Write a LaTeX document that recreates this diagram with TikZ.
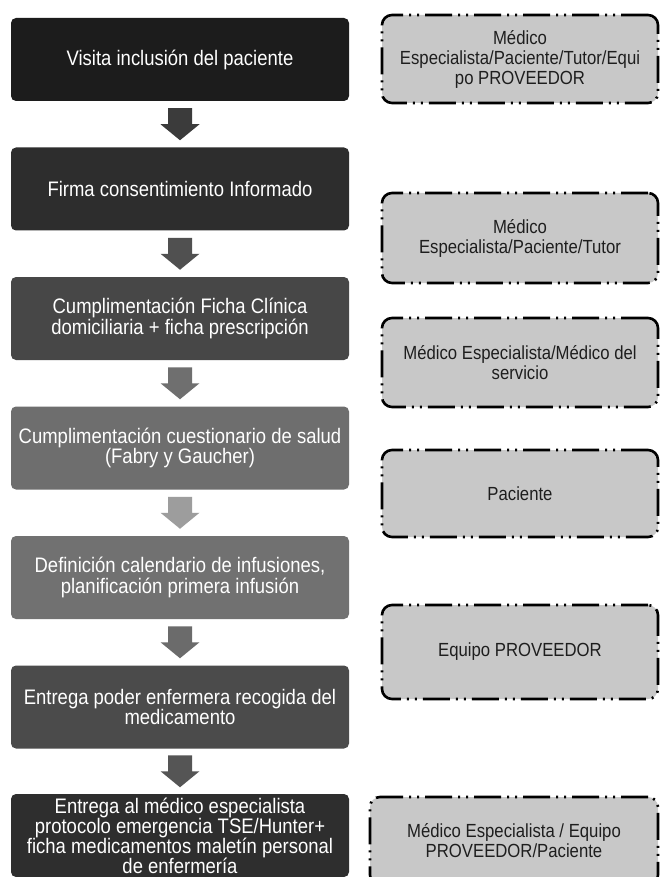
\documentclass[tikz,border=0pt]{standalone}
\usepackage{fontspec}
\newfontfamily\lfont{Liberation Sans}[FakeStretch=0.88]
\usetikzlibrary{calc}
\definecolor{bA}{HTML}{1C1C1C}
\definecolor{bB}{HTML}{2D2D2D}
\definecolor{bC}{HTML}{474747}
\definecolor{bD}{HTML}{6E6E6E}
\definecolor{bE}{HTML}{717171}
\definecolor{bF}{HTML}{4B4B4B}
\definecolor{bG}{HTML}{2E2E2E}
\definecolor{aA}{HTML}{3B3B3B}
\definecolor{aB}{HTML}{505050}
\definecolor{aC}{HTML}{6F6F6F}
\definecolor{aD}{HTML}{9D9D9D}
\definecolor{aE}{HTML}{6B6B6B}
\definecolor{aF}{HTML}{555555}
\definecolor{rfill}{HTML}{C8C8C8}
\definecolor{rtext}{HTML}{1E1E1E}
\newcommand{\blockarrow}[3]{%
  \path (#1.south) -- (#2.north) coordinate[pos=0.5] (m#1);
  \fill[#3] (m#1) ++(-12,-16) -- ++(24,0) -- ++(0,16) -- ++(7.5,0)
     -- ++(-19.5,16) -- ++(-19.5,-16) -- ++(7.5,0) -- cycle;}
\begin{document}
\begin{tikzpicture}[x=1pt,y=-1pt,
  lbox/.style={rectangle, rounded corners=5pt, minimum width=338pt,
    minimum height=83pt, text=white, align=center, inner sep=0pt,
    font=\lfont\fontsize{21}{20.5}\selectfont},
  rbox/.style={rectangle, rounded corners=10pt, fill=rfill, draw=black,
    line width=2.6pt, dash pattern=on 27pt off 6pt on 2pt off 6pt on 2pt off 6pt,
    minimum width=276pt, minimum height=88pt, align=center, text=rtext,
    inner sep=0pt, font=\lfont\fontsize{19}{20}\selectfont}]
\useasboundingbox (0,0) rectangle (659,877);
\fill[white] (0,0) rectangle (659,877);
% left column
\node[lbox, fill=bA] (b1) at (180,59.5) {Visita inclusión del paciente};
\node[lbox, fill=bB] (b2) at (180,189) {Firma consentimiento Informado};
\node[lbox, fill=bC] (b3) at (180,318.5) {Cumplimentación Ficha Clínica\\domiciliaria + ficha prescripción};
\node[lbox, fill=bD] (b4) at (180,448) {Cumplimentación cuestionario de salud\\(Fabry y Gaucher)};
\node[lbox, fill=bE] (b5) at (180,577.5) {Definición calendario de infusiones,\\planificación primera infusión};
\node[lbox, fill=bF] (b6) at (180,707) {Entrega poder enfermera recogida del\\medicamento};
\node[lbox, fill=bG, font=\lfont\fontsize{21}{20}\selectfont] (b7) at (180,835.5) {Entrega al médico especialista\\protocolo emergencia TSE/Hunter+\\ficha medicamentos maletín personal\\de enfermería};
% arrows
\blockarrow{b1}{b2}{aA}
\blockarrow{b2}{b3}{aB}
\blockarrow{b3}{b4}{aC}
\blockarrow{b4}{b5}{aD}
\blockarrow{b5}{b6}{aE}
\blockarrow{b6}{b7}{aF}
% right column
\node[rbox] (r1) at (520,59) {Médico\\Especialista/Paciente/Tutor/Equi\\po PROVEEDOR};
\node[rbox, minimum height=90pt] (r2) at (520,238) {Médico\\Especialista/Paciente/Tutor};
\node[rbox, minimum height=89pt] (r3) at (520,362.5) {Médico Especialista/Médico del\\servicio};
\node[rbox, minimum height=87pt] (r4) at (520,493.5) {Paciente};
\node[rbox, minimum height=94pt] (r5) at (520,652) {Equipo PROVEEDOR};
\node[rbox, minimum width=288pt] (r6) at (514,841) {Médico Especialista / Equipo\\PROVEEDOR/Paciente};
\end{tikzpicture}
\end{document}
